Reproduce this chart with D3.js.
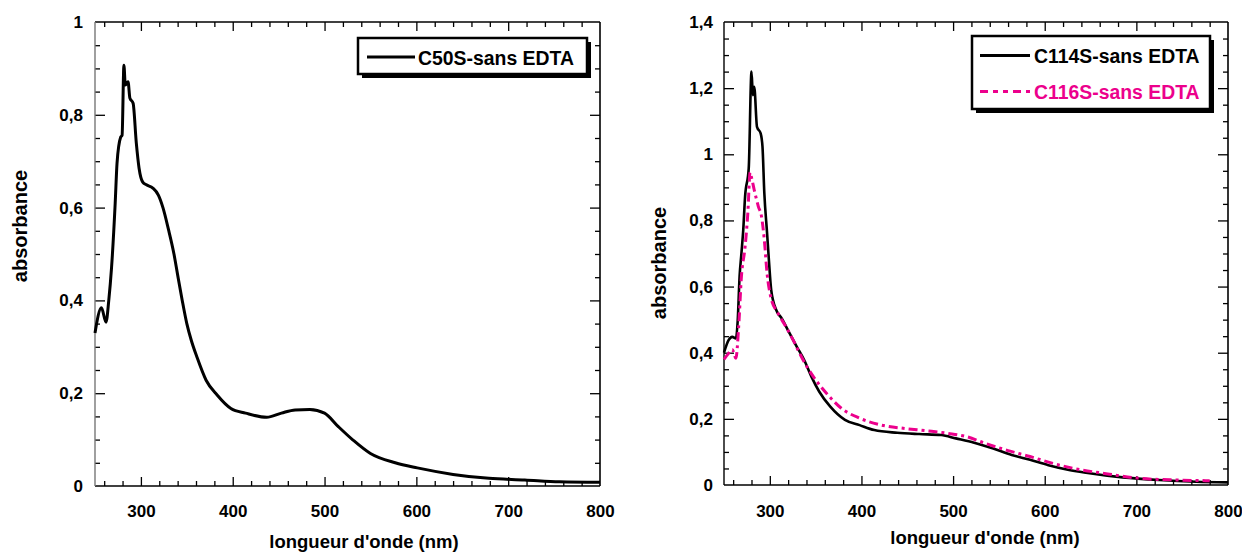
<!DOCTYPE html>
<html>
<head>
<meta charset="utf-8">
<script src="https://cdn.jsdelivr.net/npm/d3@7"></script>
<style>
  html, body { margin: 0; padding: 0; background: #fff; }
  svg { display: block; }
  text { font-family: "Liberation Sans", Arial, sans-serif; font-weight: bold; }
</style>
</head>
<body>
<svg id="chart" width="1242" height="552"></svg>
<script>
// ---------- data ----------
const xMajorTicks = [300, 400, 500, 600, 700, 800];
const xTickLabels = ["300", "400", "500", "600", "700", "800"];
const xMinorTicks = [260, 280, 320, 340, 360, 380, 420, 440, 460, 480, 520, 540, 560, 580, 620, 640, 660, 680, 720, 740, 760, 780];

const yTicksLeft = [0, 0.2, 0.4, 0.6, 0.8, 1];
const yLabelsLeft = ["0", "0,2", "0,4", "0,6", "0,8", "1"];
const yMinorLeft = [0.05, 0.1, 0.15, 0.25, 0.3, 0.35, 0.45, 0.5, 0.55, 0.65, 0.7, 0.75, 0.85, 0.9, 0.95];

const yTicksRight = [0, 0.2, 0.4, 0.6, 0.8, 1, 1.2, 1.4];
const yLabelsRight = ["0", "0,2", "0,4", "0,6", "0,8", "1", "1,2", "1,4"];
const yMinorRight = [0.05, 0.1, 0.15, 0.25, 0.3, 0.35, 0.45, 0.5, 0.55, 0.65, 0.7, 0.75, 0.85, 0.9, 0.95, 1.05, 1.1, 1.15, 1.25, 1.3, 1.35];

// C50S-sans EDTA (left panel)
const wl50 = [250, 257, 262, 265, 268, 272, 274, 278, 279.5, 281.5, 283, 286, 288, 291.5, 295, 298, 302, 306, 313, 319, 324, 330, 336, 340, 345, 350, 355, 361, 371, 383, 398, 414, 437, 453, 468, 484, 500, 515, 531, 550, 577, 601, 640, 679, 718, 756, 800];
const abs50 = [0.33, 0.384, 0.353, 0.40, 0.47, 0.61, 0.696, 0.752, 0.756, 0.907, 0.864, 0.871, 0.836, 0.825, 0.739, 0.685, 0.655, 0.649, 0.642, 0.627, 0.60, 0.553, 0.50, 0.455, 0.40, 0.35, 0.313, 0.278, 0.228, 0.196, 0.167, 0.157, 0.148, 0.157, 0.164, 0.165, 0.157, 0.128, 0.099, 0.070, 0.050, 0.039, 0.025, 0.0165, 0.013, 0.009, 0.008];

// C114S-sans EDTA (right panel, black)
const wl114 = [250, 255, 259, 263, 265, 267, 269, 271, 273, 277, 280, 281.5, 283, 286, 290, 292, 294, 297, 299, 301.5, 307, 313, 321.5, 329.5, 337.5, 345.5, 354, 366, 382, 398, 414, 439, 463, 487, 503, 523, 543, 564, 584, 604, 624, 645, 685, 725, 765, 800];
const abs114 = [0.40, 0.438, 0.448, 0.443, 0.499, 0.63, 0.70, 0.771, 0.872, 0.958, 1.25, 1.179, 1.204, 1.083, 1.063, 1.023, 0.883, 0.762, 0.68, 0.59, 0.529, 0.504, 0.459, 0.418, 0.378, 0.327, 0.282, 0.237, 0.197, 0.181, 0.166, 0.158, 0.154, 0.151, 0.141, 0.128, 0.111, 0.091, 0.076, 0.060, 0.047, 0.037, 0.023, 0.015, 0.010, 0.008];

// C116S-sans EDTA (right panel, pink)
const wl116 = [250, 255, 259, 263, 266, 269, 273, 276, 278.5, 280, 283, 287.5, 291, 294, 297, 301, 309, 317.5, 325.5, 333.5, 341.5, 350, 362, 378, 398, 422, 447, 471, 495, 515, 535, 560, 584, 608, 632, 665, 705, 745, 780];
const abs116 = [0.38, 0.398, 0.41, 0.383, 0.479, 0.63, 0.72, 0.822, 0.945, 0.93, 0.892, 0.842, 0.811, 0.741, 0.64, 0.569, 0.519, 0.479, 0.438, 0.393, 0.353, 0.318, 0.277, 0.232, 0.202, 0.181, 0.171, 0.164, 0.156, 0.146, 0.126, 0.104, 0.086, 0.066, 0.050, 0.035, 0.020, 0.015, 0.013];

const PINK = "#ec008c";

// ---------- drawing ----------
const svg = d3.select("#chart");
svg.append("rect").attr("width", 1242).attr("height", 552).attr("fill", "#fff");

function panel(cfg) {
  const g = svg.append("g");
  const x = d3.scaleLinear().domain([250, 800]).range([cfg.left, cfg.right]);
  const y = d3.scaleLinear().domain([0, cfg.ymax]).range([cfg.bottom, cfg.top]);

  const noLbl = () => "";
  const fmtY = d => cfg.ylabels[cfg.yticks.indexOf(d)];
  const fmtX = d => xTickLabels[xMajorTicks.indexOf(d)];

  function addAxis(axis, tr) {
    const a = g.append("g").attr("transform", tr).call(axis);
    a.select(".domain").remove();
    a.selectAll(".tick line").attr("stroke", "#000").attr("stroke-width", 1.3);
    return a;
  }
  // bottom
  addAxis(d3.axisBottom(x).tickValues(xMajorTicks.filter(v => v < 800)).tickSize(-9).tickFormat(noLbl), `translate(0,${cfg.bottom})`);
  addAxis(d3.axisBottom(x).tickValues(xMinorTicks).tickSize(-5).tickFormat(noLbl), `translate(0,${cfg.bottom})`);
  const xl = g.append("g").attr("transform", `translate(0,${cfg.bottom})`)
    .call(d3.axisBottom(x).tickValues(xMajorTicks).tickSize(0).tickFormat(fmtX));
  xl.select(".domain").remove();
  xl.selectAll("text").attr("dy", null).attr("y", cfg.xlabY).attr("fill", "#000")
    .style("font-size", "17px").style("font-family", "'Liberation Sans', Arial, sans-serif").style("font-weight", "bold");
  // top
  addAxis(d3.axisTop(x).tickValues(xMajorTicks.filter(v => v < 800)).tickSize(-9).tickFormat(noLbl), `translate(0,${cfg.top})`);
  addAxis(d3.axisTop(x).tickValues(xMinorTicks).tickSize(-5).tickFormat(noLbl), `translate(0,${cfg.top})`);
  // left
  const yl = g.append("g").attr("transform", `translate(${cfg.left},0)`)
    .call(d3.axisLeft(y).tickValues(cfg.yticks).tickSize(-10).tickPadding(cfg.ylabPad).tickFormat(fmtY));
  yl.select(".domain").remove();
  yl.selectAll(".tick line").attr("stroke", "#000").attr("stroke-width", 1.3)
    .filter(d => d === 0 || d === cfg.ymax).remove();
  yl.selectAll("text").attr("fill", "#000")
    .style("font-size", "17px").style("font-family", "'Liberation Sans', Arial, sans-serif").style("font-weight", "bold");
  addAxis(d3.axisLeft(y).tickValues(cfg.yminor).tickSize(-5).tickFormat(noLbl), `translate(${cfg.left},0)`);
  // right
  addAxis(d3.axisRight(y).tickValues(cfg.yticks.filter(v => v > 0 && v < cfg.ymax)).tickSize(-10).tickFormat(noLbl), `translate(${cfg.right},0)`);
  addAxis(d3.axisRight(y).tickValues(cfg.yminor).tickSize(-5).tickFormat(noLbl), `translate(${cfg.right},0)`);

  // frame
  g.append("line").attr("x1", cfg.left).attr("x2", cfg.right).attr("y1", cfg.top).attr("y2", cfg.top).attr("stroke", "#000").attr("stroke-width", 1.6);
  g.append("line").attr("x1", cfg.left).attr("x2", cfg.right).attr("y1", cfg.bottom).attr("y2", cfg.bottom).attr("stroke", "#000").attr("stroke-width", 1.6);
  g.append("line").attr("x1", cfg.right).attr("x2", cfg.right).attr("y1", cfg.top).attr("y2", cfg.bottom).attr("stroke", "#000").attr("stroke-width", 1.6);
  g.append("line").attr("x1", cfg.left).attr("x2", cfg.left).attr("y1", cfg.top).attr("y2", cfg.bottom).attr("stroke", cfg.leftAxisColor).attr("stroke-width", 1.4);

  // series
  const line = d3.line().x(d => x(d[0])).y(d => y(d[1])).curve(d3.curveMonotoneX);
  cfg.series.forEach(s => {
    const pts = s.wl.map((w, i) => [w, s.val[i]]);
    g.append("path").datum(pts).attr("d", line).attr("fill", "none")
      .attr("stroke", s.color).attr("stroke-width", s.width)
      .attr("stroke-dasharray", s.dash || null)
      .attr("stroke-linejoin", "round");
  });

  // axis titles
  g.append("text").attr("x", cfg.xtitleX).attr("y", cfg.xtitleY).attr("text-anchor", "middle")
    .style("font-size", "18.5px").text("longueur d'onde (nm)");
  g.append("text").attr("transform", `translate(${cfg.ytitleX},${cfg.ytitleY}) rotate(-90)`)
    .attr("text-anchor", "middle").attr("dy", "0.35em")
    .style("font-size", "20px").text("absorbance");

  // legend
  const L = cfg.legend;
  g.append("rect").attr("x", L.x + 4).attr("y", L.y + 4).attr("width", L.w).attr("height", L.h).attr("fill", "#000");
  g.append("rect").attr("x", L.x).attr("y", L.y).attr("width", L.w).attr("height", L.h)
    .attr("fill", "#fff").attr("stroke", "#000").attr("stroke-width", 2.5);
  cfg.series.forEach((s, i) => {
    const ly = L.y + L.row0 + i * L.rowH;
    g.append("line").attr("x1", L.x + L.lx1).attr("x2", L.x + L.lx2).attr("y1", ly).attr("y2", ly)
      .attr("stroke", s.color).attr("stroke-width", 3.2).attr("stroke-dasharray", s.legendDash || null);
    g.append("text").attr("x", L.x + L.tx).attr("y", ly + 7.5).attr("fill", s.color)
      .style("font-size", "19.4px").text(s.name);
  });
}

panel({
  left: 95, right: 600, top: 22, bottom: 486, ymax: 1,
  yticks: yTicksLeft, ylabels: yLabelsLeft, yminor: yMinorLeft,
  ylabPad: 12, xlabY: 31, leftAxisColor: "#777",
  xtitleX: 364, xtitleY: 548, ytitleX: 20, ytitleY: 226,
  series: [{ name: "C50S-sans EDTA", wl: wl50, val: abs50, color: "#000", width: 3 }],
  legend: { x: 358, y: 38, w: 229, h: 36, row0: 19, rowH: 0, lx1: 9, lx2: 57, tx: 60 }
});

panel({
  left: 724, right: 1228, top: 22, bottom: 485, ymax: 1.4,
  yticks: yTicksRight, ylabels: yLabelsRight, yminor: yMinorRight,
  ylabPad: 11, xlabY: 32, leftAxisColor: "#000",
  xtitleX: 985, xtitleY: 544, ytitleX: 659, ytitleY: 263,
  series: [
    { name: "C114S-sans EDTA", wl: wl114, val: abs114, color: "#000", width: 2.6 },
    { name: "C116S-sans EDTA", wl: wl116, val: abs116, color: PINK, width: 3, dash: "9,4,3,4", legendDash: "8,5,5,5,5,5" }
  ],
  legend: { x: 972, y: 36, w: 238, h: 73, row0: 19.5, rowH: 36, lx1: 8, lx2: 58, tx: 62 }
});
</script>
</body>
</html>
